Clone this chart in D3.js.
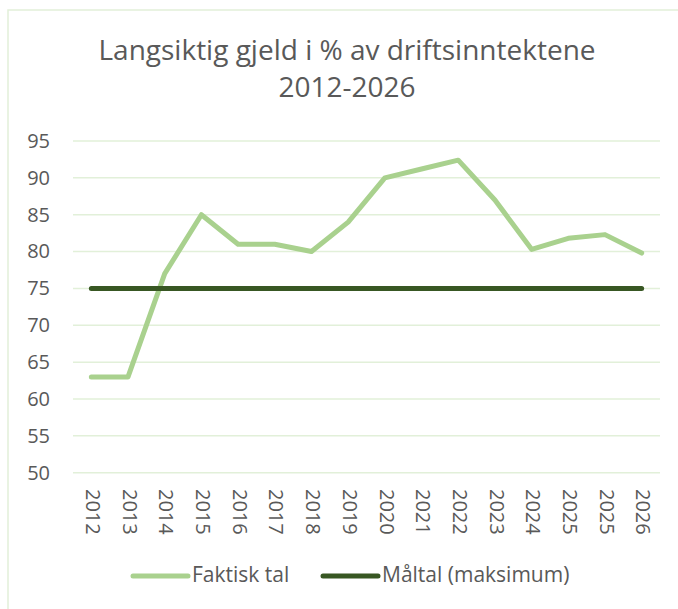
<!DOCTYPE html>
<html>
<head>
<meta charset="utf-8">
<script src="https://cdn.jsdelivr.net/npm/d3@7"></script>
<style>
  body { margin: 0; background: #fff; }
  text { font-family: "Open Sans", sans-serif; fill: #595959; }
</style>
</head>
<body>
<svg id="chart" width="678" height="609"></svg>
<script>
const years = ["2012", "2013", "2014", "2015", "2016", "2017", "2018", "2019",
               "2020", "2021", "2022", "2023", "2024", "2025", "2025", "2026"];
const faktisk = [63, 63, 77, 85, 81, 81, 80, 84, 90, 91.2, 92.4, 87, 80.3, 81.8, 82.3, 79.8];
const maltal = [75, 75, 75, 75, 75, 75, 75, 75, 75, 75, 75, 75, 75, 75, 75, 75];
const yTicks = [50, 55, 60, 65, 70, 75, 80, 85, 90, 95];

const svg = d3.select("#chart");
const light = "#A9D18E", dark = "#385723", grid = "#E2F0D9";

// chart frame
svg.append("rect")
    .attr("x", 8).attr("y", 10)
    .attr("width", 700).attr("height", 700)
    .attr("fill", "none")
    .attr("stroke", grid)
    .attr("stroke-width", 1.5);

// title
const title = svg.append("text")
    .attr("text-anchor", "middle")
    .style("font-size", "28px");
title.append("tspan").attr("x", 347).attr("y", 60).text("Langsiktig gjeld i % av driftsinntektene");
title.append("tspan").attr("x", 347).attr("y", 97).text("2012-2026");

const x = d3.scaleBand().domain(d3.range(years.length)).range([73, 660]);
const cx = i => x(i) + x.bandwidth() / 2;
const y = d3.scaleLinear().domain([50, 95]).range([472.7, 141]);

// gridlines
svg.append("g")
    .selectAll("line")
    .data(yTicks)
    .join("line")
    .attr("x1", 73).attr("x2", 660)
    .attr("y1", d => y(d)).attr("y2", d => y(d))
    .attr("stroke", grid)
    .attr("stroke-width", 1.5);

// y axis
const yAxis = svg.append("g")
    .attr("transform", "translate(50,0)")
    .call(d3.axisLeft(y).tickValues(yTicks).tickSize(0).tickPadding(0));
yAxis.select(".domain").remove();
yAxis.selectAll("text")
    .attr("fill", "#595959")
    .style("font-size", "20px");

// x labels (rotated)
svg.append("g")
    .selectAll("text")
    .data(years)
    .join("text")
    .attr("transform", (d, i) => `translate(${cx(i)},489) rotate(90)`)
    .attr("dominant-baseline", "middle")
    .style("font-size", "20px")
    .text(d => d);

const line = d3.line().x((d, i) => cx(i)).y(d => y(d));

svg.append("path")
    .datum(faktisk)
    .attr("d", line)
    .attr("fill", "none")
    .attr("stroke", light)
    .attr("stroke-width", 5)
    .attr("stroke-linejoin", "round")
    .attr("stroke-linecap", "round");

svg.append("path")
    .datum(maltal)
    .attr("d", line)
    .attr("fill", "none")
    .attr("stroke", dark)
    .attr("stroke-width", 5)
    .attr("stroke-linecap", "round");

// legend
const legend = [
    { name: "Faktisk tal", color: light, x: 133 },
    { name: "Måltal (maksimum)", color: dark, x: 323 }
];
const lg = svg.append("g").selectAll("g").data(legend).join("g")
    .attr("transform", d => `translate(${d.x},576)`);
lg.append("line")
    .attr("x1", 0).attr("x2", 55)
    .attr("stroke", d => d.color)
    .attr("stroke-width", 5)
    .attr("stroke-linecap", "round");
lg.append("text")
    .attr("x", 59)
    .attr("dominant-baseline", "middle")
    .style("font-size", "21px")
    .text(d => d.name);
</script>
</body>
</html>
